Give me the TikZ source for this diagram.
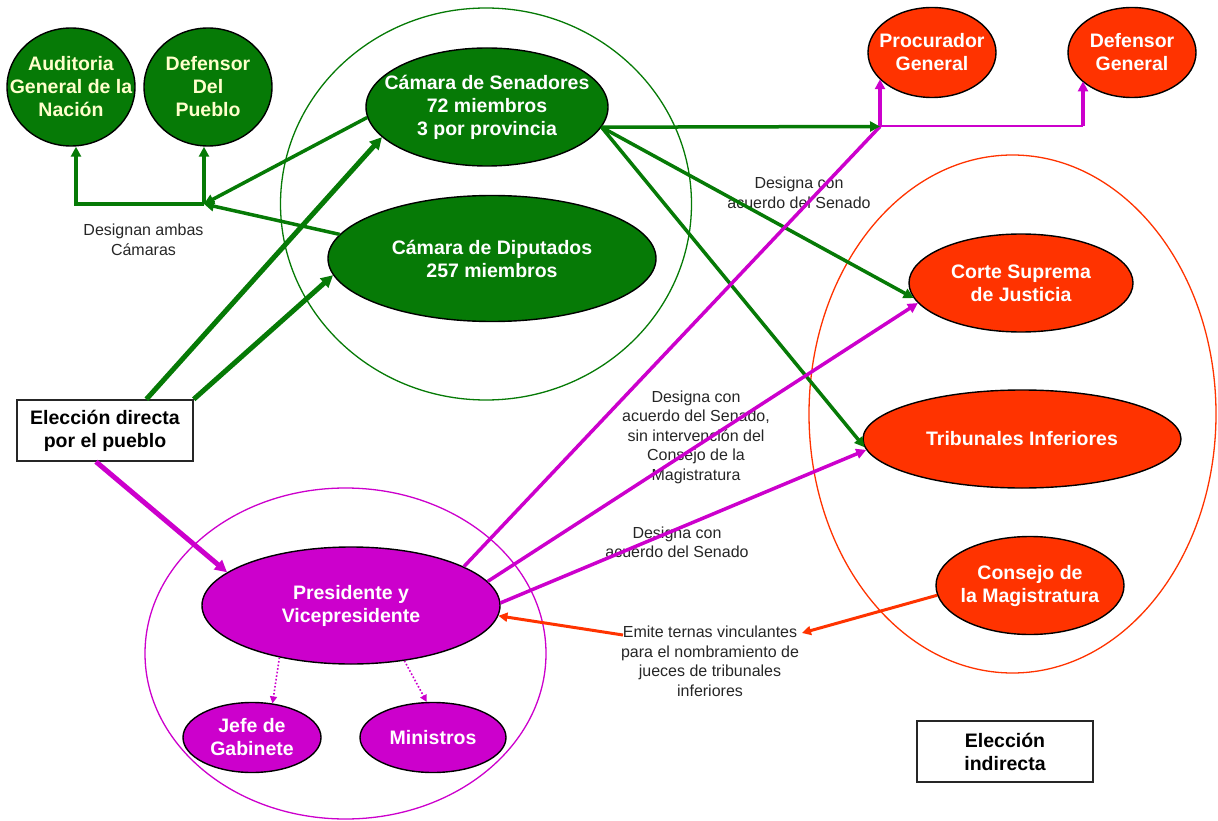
\documentclass[tikz,border=0pt]{standalone}
\usepackage{fontspec}
\setmainfont{Liberation Sans}
\usetikzlibrary{shapes.geometric,arrows.meta,calc}
\definecolor{cgreen}{RGB}{6,122,6}
\definecolor{cred}{RGB}{255,51,0}
\definecolor{cmag}{RGB}{204,0,204}
\definecolor{cyel}{RGB}{255,255,204}
\begin{document}
\begin{tikzpicture}[x=1pt,y=-1pt,
  ell/.style={ellipse,draw=black,line width=1.4pt,inner sep=0pt},
  big/.style={font=\fontsize{19.5}{23}\selectfont\bfseries,align=center,inner sep=0pt},
  small/.style={font=\fontsize{16}{19.5}\selectfont,align=center,inner sep=0pt,text=black!85},
  cont/.style={ellipse,line width=1.3pt,inner sep=0pt},
  boxst/.style={draw=black!85,line width=1.5pt,fill=white,minimum width=176pt,minimum height=61pt,inner sep=0pt},
  gthick/.style={draw=cgreen,line width=5pt,-{Triangle[length=12pt,width=12pt]}},
  gmed/.style={draw=cgreen,line width=3.5pt,-{Triangle[length=10pt,width=10pt]}},
  mthick/.style={draw=cmag,line width=5pt,-{Triangle[length=12pt,width=12pt]}},
  mmed/.style={draw=cmag,line width=3.5pt,-{Triangle[length=10pt,width=10pt]}},
  mthin/.style={draw=cmag,line width=2pt},
  mdot/.style={draw=cmag,line width=1.6pt,dotted,-{Triangle[length=7pt,width=7pt]}},
  rmed/.style={draw=cred,line width=3pt,-{Triangle[length=9pt,width=9pt]}}
]
\useasboundingbox (0,0) rectangle (1218,821);

% containers
\node[cont,draw=cgreen,minimum width=411pt,minimum height=392pt] (gcirc) at (486,204) {};
\node[cont,draw=cred,minimum width=407pt,minimum height=518pt] (rcirc) at (1012.5,414) {};
\node[cont,draw=cmag,minimum width=401pt,minimum height=331pt] (mcirc) at (345.5,653.5) {};

% labels
\node[small] (lab1) at (143.5,240) {Designan ambas\\Cámaras};
\node[small] (lab2) at (799,193) {Designa con\\acuerdo del Senado};
\node[small] (lab3) at (696,437) {Designa con\\acuerdo del Senado,\\sin intervención del\\Consejo de la\\Magistratura};
\node[small] (lab4) at (677,542.5) {Designa con\\acuerdo del Senado};
\node[small] (lab5) at (710,661.5) {Emite ternas vinculantes\\para el nombramiento de\\jueces de tribunales\\inferiores};

% ellipses
\node[ell,fill=cgreen,minimum width=128pt,minimum height=118pt,label={[big,text=cyel]center:Auditoria\\General de la\\Nación}] (aud) at (71,87) {};
\node[ell,fill=cgreen,minimum width=128pt,minimum height=118pt,label={[big,text=cyel]center:Defensor\\Del\\Pueblo}] (dpu) at (208,87) {};
\node[ell,fill=cgreen,minimum width=242pt,minimum height=118pt,label={[big,text=white]center:Cámara de Senadores\\72 miembros\\3 por provincia}] (sen) at (487,107) {};
\node[ell,fill=cgreen,minimum width=328pt,minimum height=126pt,label={[big,text=white]center:Cámara de Diputados\\257 miembros}] (dip) at (492,258.5) {};
\node[ell,fill=cred,minimum width=128pt,minimum height=90pt,label={[big,text=white]center:Procurador\\General}] (proc) at (932,52.5) {};
\node[ell,fill=cred,minimum width=128pt,minimum height=90pt,label={[big,text=white]center:Defensor\\General}] (dgen) at (1132,52.5) {};
\node[ell,fill=cred,minimum width=224pt,minimum height=98pt,label={[big,text=white]center:Corte Suprema\\de Justicia}] (corte) at (1021,283) {};
\node[ell,fill=cred,minimum width=318pt,minimum height=98pt,label={[big,text=white]center:Tribunales Inferiores}] (trib) at (1022,439) {};
\node[ell,fill=cred,minimum width=188pt,minimum height=98pt,label={[big,text=white]center:Consejo de\\la Magistratura}] (cons) at (1030,585.5) {};
\node[ell,fill=cmag,minimum width=298pt,minimum height=117pt,label={[big,text=white]center:Presidente y\\Vicepresidente}] (pres) at (351,605.5) {};
\node[ell,fill=cmag,minimum width=138pt,minimum height=70pt,label={[big,text=white]center:Jefe de\\Gabinete}] (jefe) at (252,737.5) {};
\node[ell,fill=cmag,minimum width=146pt,minimum height=70pt,label={[big,text=white]center:Ministros}] (mins) at (433,737.5) {};

% boxes
\node[boxst,big] (dir) at (105,430.5) {Elección directa\\por el pueblo};
\node[boxst,big] (ind) at (1005,751.5) {Elección\\indirecta};

% junctions
\coordinate (J) at (204,204);
\coordinate (Ja) at (76,204);
\coordinate (J2) at (880,126.5);
\coordinate (K) at (1083,126.5);
\coordinate (e1) at (802,633);
\coordinate (e2) at (623,635);

% green connectors
\draw[gthick] ($(dir.north west)!0.733!(dir.north east)$) -- (sen.196);
\draw[gthick] (dir.north east) -- (dip.186);
\draw[gmed] (sen.185) -- (J);
\draw[gmed] (dip.171) -- (J);
\draw[gmed] (J) -- (Ja) -- (Ja |- aud.south);
\draw[gmed] (J) -- (J |- dpu.south);
\draw[gmed] (sen.350) -- (corte.188);
\draw[gmed] (sen.350) -- (trib.183);

% magenta connectors
\draw[mthick] ($(dir.south)+(-9pt,0)$) -- (pres.165);
\draw[mmed,-] (pres.19) -- (J2);
\draw[mthin] (J2) -- (K);
\draw[mmed] (J2) -- (J2 |- proc.207);
\draw[mmed] (K) -- (K |- dgen.210);
\draw[gmed] (sen.350) -- (J2);
\draw[mmed] (pres.10) -- (corte.191);
\draw[mmed] (pres.1) -- (trib.184);
\draw[mdot] (pres.216) -- (jefe.59);
\draw[mdot] (pres.314) -- (mins.100);

% red connectors
\draw[rmed] (cons.186) -- (e1);
\draw[rmed] (e2) -- (pres.356);
\end{tikzpicture}
\end{document}
